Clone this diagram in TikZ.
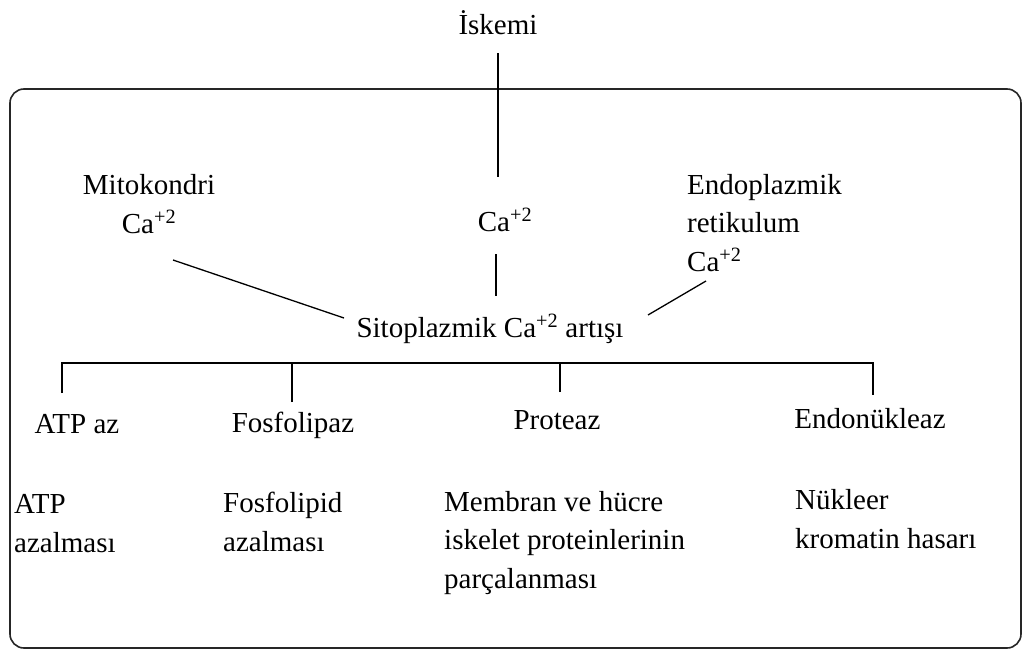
\documentclass[tikz,border=0pt]{standalone}
\usepackage{fontspec}
\setmainfont{Liberation Serif}
\begin{document}
\begin{tikzpicture}[x=1pt,y=-1pt,
  lbl/.style={inner sep=0pt, font=\fontsize{29}{38.5}\selectfont},
  conn/.style={draw=black, line width=1.3pt},
  frame/.style={draw=black!85, line width=1.6pt, rounded corners=14pt}]
\useasboundingbox[fill=white] (0,0) rectangle (1023,651);
\draw[frame] (10,89) rectangle (1021,648);

\node[lbl, anchor=base] (iskemi) at (498,34) {İskemi};
\node[lbl, anchor=base, align=center] (mito) at (149,233) {Mitokondri\\Ca\textsuperscript{+2}};
\node[lbl, anchor=base] (ca) at (505,231) {Ca\textsuperscript{+2}};
\node[lbl, anchor=base west, align=left] (endo) at (687,271) {Endoplazmik\\retikulum\\Ca\textsuperscript{+2}};
\node[lbl, anchor=base] (sito) at (490,337) {Sitoplazmik Ca\textsuperscript{+2} artışı};

\node[lbl, anchor=base] (atpaz) at (77,433) {ATP az};
\node[lbl, anchor=base] (fosfo) at (293,432) {Fosfolipaz};
\node[lbl, anchor=base] (prot) at (557,429) {Proteaz};
\node[lbl, anchor=base] (endon) at (870,428) {Endonükleaz};

\node[lbl, anchor=base west, align=left] (atp2) at (14,552) {ATP\\azalması};
\node[lbl, anchor=base west, align=left] (fosfo2) at (223,551) {Fosfolipid\\azalması};
\node[lbl, anchor=base west, align=left] (memb) at (444,588) {Membran ve hücre\\iskelet proteinlerinin\\parçalanması};
\node[lbl, anchor=base west, align=left] (nuk) at (795,548) {Nükleer\\kromatin hasarı};

\coordinate (bus) at (490,363);

% connectors
\draw[conn, shorten <=19pt, shorten >=54pt] (iskemi.base) -- (iskemi.base |- ca.base);
\draw[conn, shorten <=23pt, shorten >=41pt] ([xshift=-9pt]ca.base) -- ([xshift=-9pt]ca.base |- sito.base);
\draw[conn] ([xshift=24pt,yshift=-27pt]mito.base) -- ([xshift=-146pt,yshift=19pt]sito.base);
\draw[conn] ([xshift=19pt,yshift=-10pt]endo.base west) -- ([xshift=158pt,yshift=22pt]sito.base);

\draw[conn] ([xshift=-15pt,yshift=40pt]atpaz.base) -- ([xshift=-15pt]atpaz.base |- bus)
  -- ([xshift=3pt]endon.base |- bus) -- ([xshift=3pt,yshift=33pt]endon.base);
\draw[conn] ([xshift=-1pt,yshift=30pt]fosfo.base) -- ([xshift=-1pt]fosfo.base |- bus);
\draw[conn] ([xshift=3pt,yshift=37pt]prot.base) -- ([xshift=3pt]prot.base |- bus);
\end{tikzpicture}
\end{document}
